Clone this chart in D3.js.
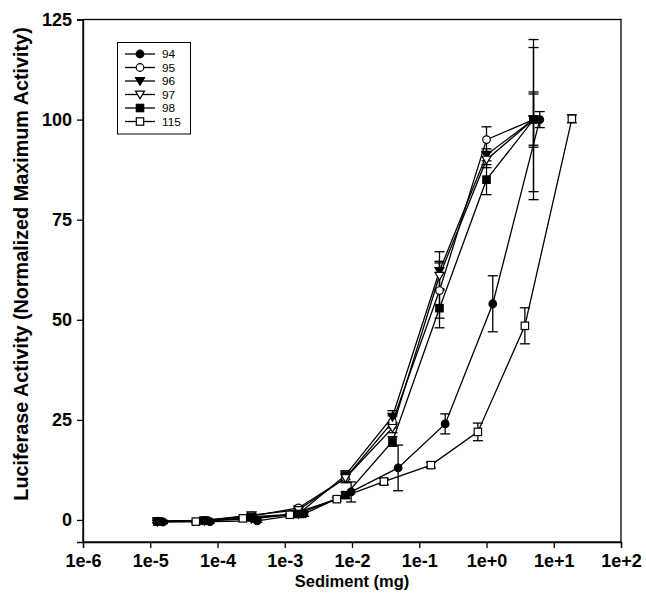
<!DOCTYPE html>
<html><head><meta charset="utf-8">
<script src="https://cdn.jsdelivr.net/npm/d3@7"></script>
<style>body{margin:0;background:#fff}svg{display:block}text{font-family:"Liberation Sans",Arial,sans-serif}</style>
</head><body><svg id="c" width="646" height="594"></svg>
<script>
// ---- data ----
const seriesNames = ["94","95","96","97","98","115"];
const dose5   = [1.28e-5, 6.4e-5, 3.2e-4, 1.6e-3, 8e-3, 0.04, 0.2, 1.0, 5.0];
const dose94  = [1.55e-5, 7.75e-5, 3.9e-4, 1.94e-3, 9.7e-3, 0.0485, 0.243, 1.24, 6.2];
const dose115 = [4.76e-5, 2.38e-4, 1.19e-3, 5.95e-3, 0.0298, 0.149, 0.744, 3.72, 18.6];
const v94  = [-0.5, -0.4, -0.2, 1.5, 7.0, 13.0, 24.0, 54.0, 100.0];
const e94  = [0.4, 0.4, 0.4, 0.6, 2.5, 5.7, 2.5, 7.0, 2.0];
const v95  = [-0.3, -0.1, 1.0, 3.0, 10.5, 24.5, 57.3, 95.0, 100.0];
const e95  = [0.3, 0.3, 0.5, 0.6, 1.2, 1.5, 6.9, 3.2, 6.9];
const v96  = [-0.4, -0.2, 0.3, 1.5, 11.2, 25.8, 62.2, 91.2, 100.0];
const e96  = [0.3, 0.3, 0.5, 0.5, 1.1, 1.5, 4.8, 1.5, 20.0];
const v97  = [-0.3, -0.1, 1.2, 2.5, 10.5, 23.0, 61.0, 90.0, 100.0];
const e97  = [0.3, 0.3, 0.5, 0.5, 1.0, 1.2, 3.6, 2.0, 18.0];
const v98  = [-0.4, -0.2, 0.8, 1.5, 6.2, 19.6, 52.9, 85.0, 100.0];
const e98  = [0.3, 0.3, 0.5, 0.5, 0.8, 1.2, 4.9, 3.75, 6.4];
const v115 = [-0.4, 0.4, 1.3, 5.2, 9.6, 13.7, 22.0, 48.5, 100.2];
const e115 = [0.3, 0.3, 0.3, 0.5, 0.8, 0.7, 2.2, 4.5, 1.0];
const xTicks = [1e-6,1e-5,1e-4,1e-3,1e-2,1e-1,1,10,100];
const xTickLabels = ["1e-6","1e-5","1e-4","1e-3","1e-2","1e-1","1e+0","1e+1","1e+2"];
const yTicks = [0,25,50,75,100,125];
const xTitle = "Sediment (mg)";
const yTitle = "Luciferase Activity (Normalized Maximum Activity)";

const doses = [dose94, dose5, dose5, dose5, dose5, dose115];
const vals = [v94, v95, v96, v97, v98, v115];
const errs = [e94, e95, e96, e97, e98, e115];
const markers = [
  {shape:"circle", fill:true},{shape:"circle", fill:false},
  {shape:"tri", fill:true},{shape:"tri", fill:false},
  {shape:"square", fill:true},{shape:"square", fill:false}];

const series = seriesNames.map((n,i)=>({name:n, m:markers[i],
  pts: doses[i].map((d,j)=>({x:d, y:vals[i][j], e:errs[i][j]}))}));

// ---- layout ----
const L=83, R=621, T=19.5, B=542;
const svg = d3.select("#c");
const x = d3.scaleLog().domain([1e-6,1e2]).range([L,R]);
const y = d3.scaleLinear().domain([-5.5,125]).range([B,T]);

svg.append("rect").attr("x",L).attr("y",T).attr("width",R-L).attr("height",B-T)
  .attr("fill","none").attr("stroke","#000").attr("stroke-width",1.3);

const xAxis = svg.append("g").attr("transform",`translate(0,${B})`)
  .call(d3.axisBottom(x).tickValues(xTicks).tickFormat((d,i)=>xTickLabels[i]).tickSize(6).tickPadding(6));
const yAxis = svg.append("g").attr("transform",`translate(${L},0)`)
  .call(d3.axisLeft(y).tickValues(yTicks).tickSize(6).tickPadding(5));
[xAxis,yAxis].forEach(a=>{
  a.select(".domain").attr("stroke","#000").attr("stroke-width",1.3);
  a.selectAll(".tick line").attr("stroke","#000").attr("stroke-width",1.3);
  a.selectAll("text").attr("fill","#000").attr("font-size",18).attr("font-weight","bold")
    .attr("font-family","'Liberation Sans',Arial,sans-serif");
});

svg.append("text").attr("x",(L+R)/2).attr("y",587).attr("text-anchor","middle")
  .attr("font-size",16.5).attr("font-weight","bold").text(xTitle);
svg.append("text").attr("transform","translate(28,264) rotate(-90)").attr("text-anchor","middle")
  .attr("font-size",19.8).attr("font-weight","bold").text(yTitle);

function drawMarker(g, cx, cy, m, s){
  const f = m.fill ? "#000" : "#fff";
  if(m.shape==="circle"){
    g.append("circle").attr("cx",cx).attr("cy",cy).attr("r",3.8*s).attr("fill",f).attr("stroke","#000").attr("stroke-width",1.2);
  } else if(m.shape==="square"){
    const h=3.7*s;
    g.append("rect").attr("x",cx-h).attr("y",cy-h).attr("width",2*h).attr("height",2*h).attr("fill",f).attr("stroke","#000").attr("stroke-width",1.2);
  } else {
    const h=4.5*s;
    g.append("path").attr("d",`M${cx-h},${cy-h*0.75}L${cx+h},${cy-h*0.75}L${cx},${cy+h*0.95}Z`).attr("fill",f).attr("stroke","#000").attr("stroke-width",1.2);
  }
}

const line = d3.line().x(d=>x(d.x)).y(d=>y(d.y));
const plot = svg.append("g");
series.forEach(s=>{
  plot.append("path").attr("d",line(s.pts)).attr("fill","none").attr("stroke","#000").attr("stroke-width",1.3);
});
series.forEach(s=>{
  s.pts.forEach(p=>{
    const cx=x(p.x), y1=y(p.y+p.e), y2=y(p.y-p.e);
    plot.append("line").attr("x1",cx).attr("x2",cx).attr("y1",y1).attr("y2",y2).attr("stroke","#000").attr("stroke-width",1.3);
    [y1,y2].forEach(yy=>plot.append("line").attr("x1",cx-5).attr("x2",cx+5).attr("y1",yy).attr("y2",yy).attr("stroke","#000").attr("stroke-width",1.3));
  });
});
series.forEach(s=>{
  s.pts.forEach(p=>drawMarker(plot, x(p.x), y(p.y), s.m, 1));
});

// legend
const lg = svg.append("g");
lg.append("rect").attr("x",117.5).attr("y",42.5).attr("width",73).attr("height",91.5)
  .attr("fill","#fff").attr("stroke","#000").attr("stroke-width",1);
series.forEach((s,i)=>{
  const yy = 54 + i*13.5;
  lg.append("line").attr("x1",125).attr("x2",155).attr("y1",yy).attr("y2",yy).attr("stroke","#000").attr("stroke-width",1.3);
  drawMarker(lg, 140, yy, s.m, 1);
  lg.append("text").attr("x",162).attr("y",yy+4.3).attr("font-size",11.8).text(s.name);
});
</script></body></html>
